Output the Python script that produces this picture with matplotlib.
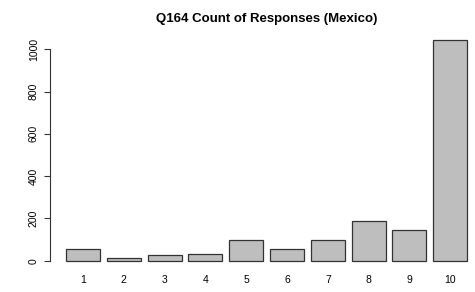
import matplotlib
matplotlib.use("Agg")
import matplotlib.pyplot as plt
import numpy as np

categories = ["1", "2", "3", "4", "5", "6", "7", "8", "9", "10"]
counts = [54, 11, 25, 30, 96, 57, 96, 186, 144, 1042]
yticks = [0, 200, 400, 600, 800, 1000]

plt.rcParams['font.family'] = ['Liberation Sans', 'DejaVu Sans']

fig = plt.figure(figsize=(4.75, 2.92), dpi=100)
ax = fig.add_axes([50/475, 1-269.5/292, (483.3-50)/475, (269.5-31.6)/292])

x = 0.2 + 1.2*np.arange(len(counts)) + 0.5
ax.bar(x, counts, width=1.0, color="#BEBEBE", edgecolor="#333333", linewidth=0.9)

ax.set_xlim(-0.272, 12.472)
ax.set_ylim(-0.04*max(counts), 1.04*max(counts))
ax.set_xticks(x)
ax.set_xticklabels(categories, fontsize=7.5)
ax.tick_params(axis='x', length=0, pad=4)
ax.set_yticks(yticks)
ax.set_yticklabels([str(v) for v in yticks], fontsize=7.5, rotation=90, va='center')
ax.tick_params(axis='y', length=4, width=0.8, color="#333333", pad=4)
for s in ['top', 'right', 'bottom']:
    ax.spines[s].set_visible(False)
ax.spines['left'].set_bounds(0, 1000)
ax.spines['left'].set_color("#333333")
ax.spines['left'].set_linewidth(0.8)
ax.patch.set_visible(False)

fig.text(267/475, 1-19/292, "Q164 Count of Responses (Mexico)", ha='center', va='center',
         fontsize=9.5, fontweight='bold')

fig.savefig("out.png", dpi=100)
